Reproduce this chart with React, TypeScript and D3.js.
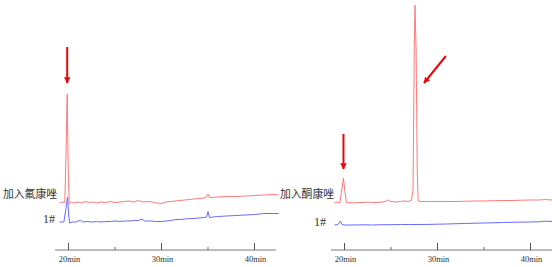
import React from "react";
import * as d3 from "d3";

// time (min), signal (arbitrary units, 0 = axis baseline)
const leftRed: [number, number][] = [
  [19.03, 47], [19.4, 48], [19.6, 47.5], [19.72, 90], [19.86, 156], [19.97, 80], [20.08, 46],
  [20.3, 48], [20.6, 47], [21.0, 48], [21.4, 47], [21.8, 48.5], [22.2, 47.5], [22.6, 48],
  [23.0, 47], [23.5, 48], [24.0, 47.5], [24.5, 48.5], [25.0, 47.5], [25.5, 48], [26.0, 48.5],
  [26.5, 49], [27.0, 48], [27.5, 49.5], [28.0, 48], [28.5, 48.5], [29.0, 48], [29.5, 47],
  [30.0, 46.5], [30.5, 48], [31.0, 48.5], [31.5, 49], [32.0, 49.5], [32.5, 50], [33.0, 50.5],
  [33.5, 51], [34.0, 51.5], [34.5, 52], [34.8, 52.5], [35.0, 56], [35.15, 52.5], [35.5, 52.5],
  [36.0, 53], [37.0, 53.5], [38.0, 53.5], [39.0, 54], [40.0, 54.5], [41.0, 55], [42.0, 55.5], [42.6, 55],
];
const leftBlue: [number, number][] = [
  [19.03, 28], [19.5, 28], [19.7, 40], [19.9, 53], [20.02, 35], [20.12, 27], [20.4, 28],
  [20.8, 28], [21.3, 30], [21.5, 28], [22.0, 28.5], [22.5, 28], [23.0, 28.5], [23.5, 28],
  [24.0, 28.5], [24.5, 28.5], [25.0, 29], [25.5, 28.5], [26.0, 29], [26.5, 29], [27.0, 29.5],
  [27.5, 29.5], [27.9, 31], [28.2, 29], [28.8, 29], [29.5, 28.5], [30.0, 28.5], [30.5, 29],
  [31.0, 29.5], [31.5, 30.5], [32.0, 30.5], [32.5, 31], [33.0, 31.5], [33.5, 31.5], [34.0, 32],
  [34.6, 32.5], [34.85, 33], [35.0, 38.5], [35.15, 32.5], [35.5, 33], [36.0, 33.5], [37.0, 34],
  [38.0, 34.5], [39.0, 35], [40.0, 35.5], [41.0, 36.5], [42.0, 36.5], [42.6, 36.5],
];
const rightRed: [number, number][] = [
  [18.92, 47], [19.2, 48], [19.5, 47], [19.7, 60], [19.89, 72], [20.05, 58], [20.2, 47],
  [20.6, 47.5], [21.0, 47], [21.5, 47.5], [22.0, 47.5], [22.5, 48], [23.0, 47.5], [23.5, 47.5],
  [24.0, 48], [24.4, 48.5], [24.73, 50], [25.0, 48.5], [25.5, 48], [26.0, 48.5], [26.5, 49],
  [26.9, 48.5], [27.2, 50], [27.37, 60], [27.5, 200], [27.58, 245], [27.7, 200], [27.82, 80],
  [27.92, 49], [28.2, 48.5], [28.8, 48.5], [29.5, 48.5], [30.0, 48.5], [31.0, 48.5], [32.0, 48.5],
  [33.0, 48.8], [34.0, 49], [35.0, 49], [36.0, 49.3], [37.0, 49.5], [38.0, 49.5], [39.0, 49.8],
  [40.0, 50], [41.0, 50], [41.5, 50.5], [42.4, 50],
];
const rightBlue: [number, number][] = [
  [18.92, 25], [19.3, 25.5], [19.57, 29], [19.75, 25.5], [20.0, 25], [20.5, 25], [21.0, 25],
  [22.0, 25.2], [23.0, 25], [24.0, 25.3], [25.0, 25.3], [26.0, 25.5], [27.0, 25.5], [28.0, 25.5],
  [29.0, 25.6], [30.0, 25.8], [31.0, 26], [32.0, 26.3], [33.0, 26.5], [34.0, 26.8], [35.0, 27],
  [36.0, 27.2], [37.0, 27.5], [38.0, 27.7], [39.0, 27.9], [40.0, 28], [41.0, 28.3], [41.5, 28.8], [42.4, 28.5],
];

const majorTicks = [20, 30, 40];
const minorTicks = [25, 35];
const tickLabels = ["20min", "30min", "40min"];

const panels = [
  { dx: 0, red: leftRed, blue: leftBlue, label: "加入氟康唑", labelX: 3, labelY: 198, sampleX: 55, sampleY: 223,
    arrows: [[[19.86, 203], [19.86, 167]]] as [number, number][][] },
  { dx: 276, red: rightRed, blue: rightBlue, label: "加入酮康唑", labelX: 4, labelY: 198, sampleX: 50, sampleY: 226,
    arrows: [[[19.89, 116], [19.89, 81]], [[30.9, 194], [28.55, 167]]] as [number, number][][] },
];

const AXIS_Y = 250;

export default function App() {
  const x = d3.scaleLinear().domain([20, 40]).range([68.5, 254.5]);
  const y = d3.scaleLinear().domain([0, 250]).range([AXIS_Y, 0]);
  const line = d3.line<[number, number]>().x((d) => x(d[0])).y((d) => y(d[1]));
  const x0 = x.invert(55);
  const x1 = x.invert(276);

  return (
    <svg width={552} height={267} style={{ position: "absolute", left: 0, top: 0, background: "#fff" }}>
      <defs>
        <marker id="ah" viewBox="0 0 10 10" refX="9" refY="5" markerWidth="3.2" markerHeight="3.6" orient="auto">
          <path d="M0,0 L10,5 L0,10 z" fill="#e8080a" />
        </marker>
      </defs>
      {panels.map((p, i) => (
        <g key={i} transform={`translate(${p.dx},0)`}>
          <line x1={x(x0)} x2={x(x1)} y1={AXIS_Y} y2={AXIS_Y} stroke="#7a7a7a" strokeWidth={1.2} />
          {majorTicks.map((t, j) => (
            <g key={t}>
              <line x1={x(t)} x2={x(t)} y1={AXIS_Y} y2={AXIS_Y - 7} stroke="#555" strokeWidth={1} />
              <text x={x(t) + 1} y={262} fontSize={8.5} textAnchor="middle" fill="#333"
                fontFamily="Liberation Serif, serif">{tickLabels[j]}</text>
            </g>
          ))}
          {minorTicks.map((t) => (
            <line key={t} x1={x(t)} x2={x(t)} y1={AXIS_Y} y2={AXIS_Y - 3} stroke="#666" strokeWidth={1} />
          ))}
          <path d={line(p.red) || ""} fill="none" stroke="#ff7a7a" strokeWidth={1} />
          <path d={line(p.blue) || ""} fill="none" stroke="#6a6aff" strokeWidth={1} />
          <text x={p.labelX} y={p.labelY} fontSize={10.8} textAnchor="start" fill="#333"
            fontFamily="Noto Sans CJK SC, sans-serif">{p.label}</text>
          <text x={p.sampleX} y={p.sampleY} fontSize={12} textAnchor="end" fill="#333"
            fontFamily="Liberation Serif, serif">1#</text>
          {p.arrows.map((a, k) => (
            <line key={k} x1={x(a[0][0])} y1={y(a[0][1])} x2={x(a[1][0])} y2={y(a[1][1])}
              stroke="#e8080a" strokeWidth={2} markerEnd="url(#ah)" />
          ))}
        </g>
      ))}
    </svg>
  );
}
